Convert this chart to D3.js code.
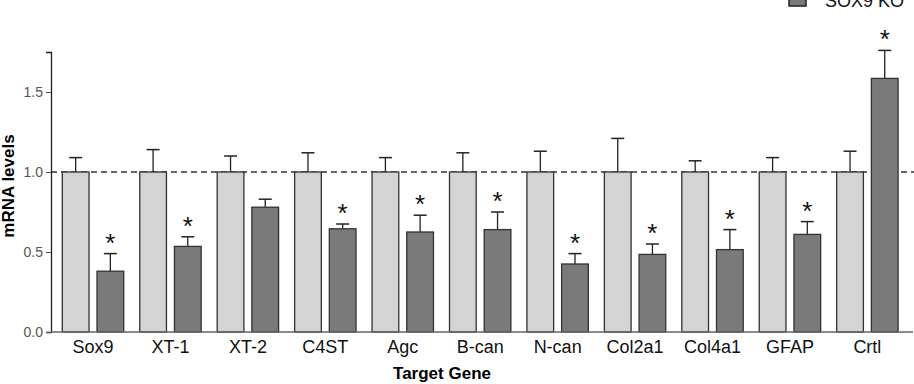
<!DOCTYPE html>
<meta charset="utf-8">
<script src="https://d3js.org/d3.v7.js"></script>
<style>
  body { margin: 0; background: #fff; }
  text { font-family: "Liberation Sans", Arial, sans-serif; }
</style>
<svg id="chart" width="914" height="384"></svg>

<script>
  const width = 914;
  const height = 384;

  // genes on the x axis
  const genes = ["Sox9", "XT-1", "XT-2", "C4ST", "Agc", "B-can", "N-can", "Col2a1", "Col4a1", "GFAP", "Crtl"];
  const groups = ["Control", "SOX9 KO"];

  // mean mRNA levels and top of the error bar
  const controlMean = [1, 1, 1, 1, 1, 1, 1, 1, 1, 1, 1];
  const controlErr = [1.09, 1.14, 1.10, 1.12, 1.09, 1.12, 1.13, 1.21, 1.07, 1.09, 1.13];
  const koMean = [0.38, 0.535, 0.78, 0.645, 0.625, 0.64, 0.425, 0.485, 0.515, 0.61, 1.585];
  const koErr = [0.49, 0.595, 0.83, 0.675, 0.73, 0.75, 0.49, 0.55, 0.64, 0.69, 1.76];
  const koSignificant = [true, true, false, true, true, true, true, true, true, true, true];

  const yTicks = [0, 0.5, 1.0, 1.5];

  const data = genes.map((g, i) => ({
    gene: g,
    bars: [
      { group: "Control", mean: controlMean[i], err: controlErr[i], sig: false },
      { group: "SOX9 KO", mean: koMean[i], err: koErr[i], sig: koSignificant[i] }
    ]
  }));

  const colors = { "Control": "#d4d4d4", "SOX9 KO": "#7a7a7a" };

  const svg = d3.select("#chart");

  const axisX = 51;
  const y = d3.scaleLinear().domain([0, 1.75]).range([332, 52]);

  const x0 = d3.scaleBand()
    .domain(genes)
    .range([axisX, 909.4])
    .paddingInner(0.207)
    .paddingOuter(0.146);

  const x1 = d3.scaleBand()
    .domain(groups)
    .range([0, x0.bandwidth()])
    .paddingInner(0.23);

  // reference line at 1.0
  svg.append("line")
    .attr("x1", axisX).attr("x2", width)
    .attr("y1", y(1)).attr("y2", y(1))
    .attr("stroke", "#333")
    .attr("stroke-width", 1.3)
    .attr("stroke-dasharray", "6,4");

  const g = svg.append("g")
    .selectAll("g")
    .data(data)
    .join("g")
    .attr("transform", d => `translate(${x0(d.gene)},0)`);

  const bar = g.selectAll("g")
    .data(d => d.bars)
    .join("g");

  // error bars (drawn first so the bar outline sits on top)
  bar.append("line")
    .attr("x1", d => x1(d.group) + x1.bandwidth() / 2)
    .attr("x2", d => x1(d.group) + x1.bandwidth() / 2)
    .attr("y1", d => y(d.mean))
    .attr("y2", d => y(d.err))
    .attr("stroke", "#222")
    .attr("stroke-width", 1.3);

  bar.append("line")
    .attr("x1", d => x1(d.group) + x1.bandwidth() / 2 - 6.5)
    .attr("x2", d => x1(d.group) + x1.bandwidth() / 2 + 6.5)
    .attr("y1", d => y(d.err))
    .attr("y2", d => y(d.err))
    .attr("stroke", "#222")
    .attr("stroke-width", 1.5);

  bar.append("rect")
    .attr("x", d => x1(d.group))
    .attr("y", d => y(d.mean))
    .attr("width", x1.bandwidth())
    .attr("height", d => y(0) - y(d.mean))
    .attr("fill", d => colors[d.group])
    .attr("stroke", "#333")
    .attr("stroke-width", 1.3);

  // significance stars
  bar.filter(d => d.sig)
    .append("text")
    .attr("x", d => x1(d.group) + x1.bandwidth() / 2)
    .attr("y", d => y(d.err) - 2)
    .attr("text-anchor", "middle")
    .attr("font-size", 26)
    .attr("fill", "#111")
    .text("*");

  // y axis
  const yAxis = svg.append("g")
    .attr("transform", `translate(${axisX},0)`)
    .call(d3.axisLeft(y).tickValues(yTicks).tickFormat(d3.format(".1f")).tickSize(5).tickPadding(3));
  yAxis.select(".domain").attr("stroke", "#222").attr("stroke-width", 1.3);
  yAxis.selectAll(".tick line").attr("stroke", "#555");
  yAxis.selectAll(".tick text")
    .attr("font-size", 14)
    .attr("fill", "#555")
    .style("font-family", "'Liberation Sans', Arial, sans-serif");

  // x axis line
  svg.append("line")
    .attr("x1", axisX).attr("x2", 913)
    .attr("y1", y(0)).attr("y2", y(0))
    .attr("stroke", "#666")
    .attr("stroke-width", 1.5);

  // gene labels
  svg.append("g")
    .selectAll("text")
    .data(genes)
    .join("text")
    .attr("x", d => x0(d) + x0.bandwidth() / 2)
    .attr("y", 353)
    .attr("text-anchor", "middle")
    .attr("font-size", 18)
    .attr("fill", "#111")
    .text(d => d);

  // axis titles
  svg.append("text")
    .attr("x", 442)
    .attr("y", 379)
    .attr("text-anchor", "middle")
    .attr("font-size", 17)
    .attr("font-weight", "bold")
    .text("Target Gene");

  svg.append("text")
    .attr("transform", "translate(14,186) rotate(-90)")
    .attr("text-anchor", "middle")
    .attr("font-size", 17)
    .attr("font-weight", "bold")
    .text("mRNA levels");

  // legend (top entry falls above the visible area, as in the source)
  const legend = svg.append("g")
    .selectAll("g")
    .data(groups)
    .join("g")
    .attr("transform", (d, i) => `translate(789,${-30 + i * 22})`);

  legend.append("rect")
    .attr("width", 17)
    .attr("height", 14)
    .attr("fill", d => colors[d])
    .attr("stroke", "#222")
    .attr("stroke-width", 1.5);

  legend.append("text")
    .attr("x", 36)
    .attr("y", 15)
    .attr("font-size", 18)
    .attr("fill", "#111")
    .text(d => d);
</script>
